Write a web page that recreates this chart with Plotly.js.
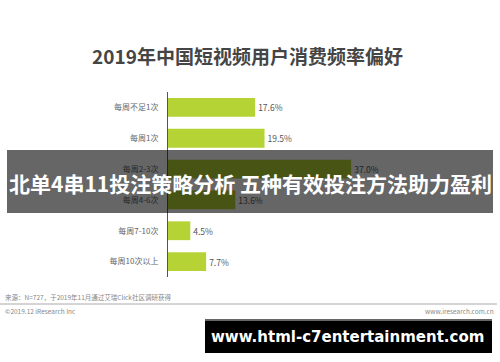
<!DOCTYPE html>
<html>
<head>
<meta charset="utf-8">
<script src="https://cdn.plot.ly/plotly-3.0.1.min.js"></script>
<style>
html,body{margin:0;padding:0;background:#fff;}
#chart{width:500px;height:362px;}
</style>
</head>
<body>
<div id="chart"></div>
<script>
const categories = ['每周不足1次','每周1次','每周2-3次','每周4-6次','每周7-10次','每周10次以上'];
const values = [17.6, 19.5, 37.0, 13.6, 4.5, 7.7];
const titleText = '2019年中国短视频用户消费频率偏好';
const bannerText = '北单4串11投注策略分析 五种有效投注方法助力盈利';
const sourceText = '来源：N=727，于2019年11月通过艾瑞Click社区调研获得';
const copyrightText = '©2019.12 iResearch Inc';
const siteText = 'www.iresearch.com.cn';
const watermarkText = 'www.html-c7entertainment.com';

const W = 500, H = 362;
const L = 168, R = 35, T = 92, B = 85;
const PW = W - L - R, PH = H - T - B;
const px = x => (x - L) / PW;
const py = y => (H - B - y) / PH;
const CJK = '"Noto Sans CJK SC", "Noto Sans", sans-serif';

const trace = {
  type: 'bar',
  orientation: 'h',
  x: values,
  y: categories,
  marker: {color: '#b5d334'},
  text: values.map(v => v.toFixed(1) + '%'),
  textposition: 'outside',
  cliponaxis: false,
  textfont: {family: CJK, size: 8.5, color: '#555'},
  hoverinfo: 'none'
};

const layout = {
  width: W, height: H,
  margin: {l: L, r: R, t: T, b: B, pad: 0},
  paper_bgcolor: '#fff',
  plot_bgcolor: '#fff',
  showlegend: false,
  bargap: 0.39,
  title: {
    text: '<b>' + titleText + '</b>',
    font: {family: CJK, size: 19, color: '#454545'},
    xref: 'container', x: 0.495, xanchor: 'center',
    yref: 'container', y: 1 - 57 / H, yanchor: 'middle'
  },
  xaxis: {range: [0, 60], visible: false, fixedrange: true},
  yaxis: {
    autorange: 'reversed',
    showline: true, linecolor: '#555', linewidth: 1,
    showgrid: false, zeroline: false,
    ticks: '', ticklabelstandoff: 7,
    tickfont: {family: CJK, size: 8, color: '#666'}
  },
  shapes: [
    {type: 'rect', xref: 'paper', yref: 'paper', layer: 'above',
     x0: px(7), x1: px(493), y0: py(150), y1: py(213),
     fillcolor: 'rgba(0,0,0,0.6)', line: {width: 0}},
    {type: 'line', xref: 'paper', yref: 'paper', layer: 'above',
     x0: px(0), x1: px(497), y0: py(304), y1: py(304),
     line: {color: '#aaa', width: 1}},
    {type: 'rect', xref: 'paper', yref: 'paper', layer: 'above',
     x0: px(205), x1: px(492), y0: py(319), y1: py(321),
     fillcolor: '#666', line: {width: 0}},
    {type: 'rect', xref: 'paper', yref: 'paper', layer: 'above',
     x0: px(205), x1: px(492), y0: py(321), y1: py(353),
     fillcolor: '#000', line: {width: 0}}
  ],
  annotations: [
    {text: '<b>' + bannerText + '</b>', xref: 'paper', yref: 'paper',
     x: px(250), y: py(183), xanchor: 'center', yanchor: 'middle', showarrow: false,
     font: {family: CJK, size: 21, color: '#fff'}},
    {text: sourceText, xref: 'paper', yref: 'paper',
     x: px(3), y: py(297), xanchor: 'left', yanchor: 'middle', showarrow: false,
     font: {family: CJK, size: 6.5, color: '#888'}},
    {text: copyrightText, xref: 'paper', yref: 'paper',
     x: px(3), y: py(311), xanchor: 'left', yanchor: 'middle', showarrow: false,
     font: {family: CJK, size: 6.5, color: '#888'}},
    {text: siteText, xref: 'paper', yref: 'paper',
     x: px(496), y: py(311), xanchor: 'right', yanchor: 'middle', showarrow: false,
     font: {family: CJK, size: 6.5, color: '#888'}},
    {text: '<b>' + watermarkText + '</b>', xref: 'paper', yref: 'paper',
     x: px(347), y: py(337), xanchor: 'center', yanchor: 'middle', showarrow: false,
     font: {family: '"DejaVu Sans", sans-serif', size: 15, color: '#fff'}}
  ]
};

Plotly.newPlot('chart', [trace], layout, {displayModeBar: false, staticPlot: true});
</script>
</body>
</html>
